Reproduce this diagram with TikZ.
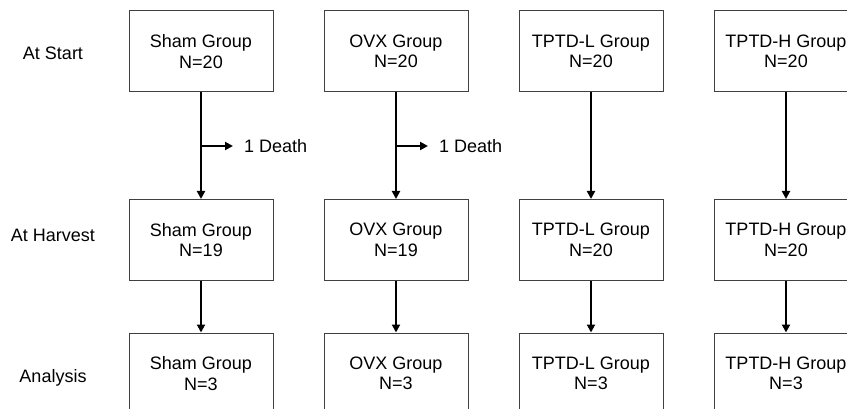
\documentclass[tikz,border=0pt]{standalone}
\usepackage{fontspec}
\setmainfont{Liberation Sans}
\usetikzlibrary{arrows.meta}

\begin{document}
\begin{tikzpicture}[x=1pt, y=-1pt,
    grp/.style={rectangle, draw=black!75, line width=1pt, minimum width=144pt, minimum height=81pt, align=center, inner sep=0pt, font=\fontsize{18}{20.5}\selectfont},
    lbl/.style={anchor=base, inner sep=0pt, font=\fontsize{18}{20.5}\selectfont},
    flow/.style={-{Triangle[width=8pt, length=8pt]}, line width=2pt}]
    \useasboundingbox (0,0) rectangle (847,409);
    \node[lbl] (start) at (53, 60) {At Start};
    \node[lbl] (harvest) at (53, 241) {At Harvest};
    \node[lbl] (analysis) at (53, 382) {Analysis};

    \node[grp] (sham1) at (201, 51.5) {Sham Group\\N=20};
    \node[grp] (ovx1) at (396, 51.5) {OVX Group\\N=20};
    \node[grp] (low1) at (591, 51.5) {TPTD-L Group\\N=20};
    \node[grp] (high1) at (786, 51.5) {TPTD-H Group\\N=20};

    \node[grp] (sham2) at (201, 240) {Sham Group\\N=19};
    \node[grp] (ovx2) at (396, 240) {OVX Group\\N=19};
    \node[grp] (low2) at (591, 240) {TPTD-L Group\\N=20};
    \node[grp] (high2) at (786, 240) {TPTD-H Group\\N=20};

    \node[grp] (sham3) at (201, 373.5) {Sham Group\\N=3};
    \node[grp] (ovx3) at (396, 373.5) {OVX Group\\N=3};
    \node[grp] (low3) at (591, 373.5) {TPTD-L Group\\N=3};
    \node[grp] (high3) at (786, 373.5) {TPTD-H Group\\N=3};

    \draw[flow] (sham1) -- (sham2);
    \draw[flow] (ovx1) -- (ovx2);
    \draw[flow] (low1) -- (low2);
    \draw[flow] (high1) -- (high2);
    \draw[flow] (sham2) -- (sham3);
    \draw[flow] (ovx2) -- (ovx3);
    \draw[flow] (low2) -- (low3);
    \draw[flow] (high2) -- (high3);

    % deaths
    \coordinate (shamd) at (201, 146);
    \coordinate (shamdend) at (233, 146);
    \draw[flow] (shamd) -- (shamdend);
    \node[anchor=west, inner sep=0pt, font=\fontsize{18}{20.5}\selectfont] (shamdeath) at (244, 146) {1 Death};
    \coordinate (ovxd) at (396, 146);
    \coordinate (ovxdend) at (428, 146);
    \draw[flow] (ovxd) -- (ovxdend);
    \node[anchor=west, inner sep=0pt, font=\fontsize{18}{20.5}\selectfont] (ovxdeath) at (439, 146) {1 Death};
\end{tikzpicture}
\end{document}
